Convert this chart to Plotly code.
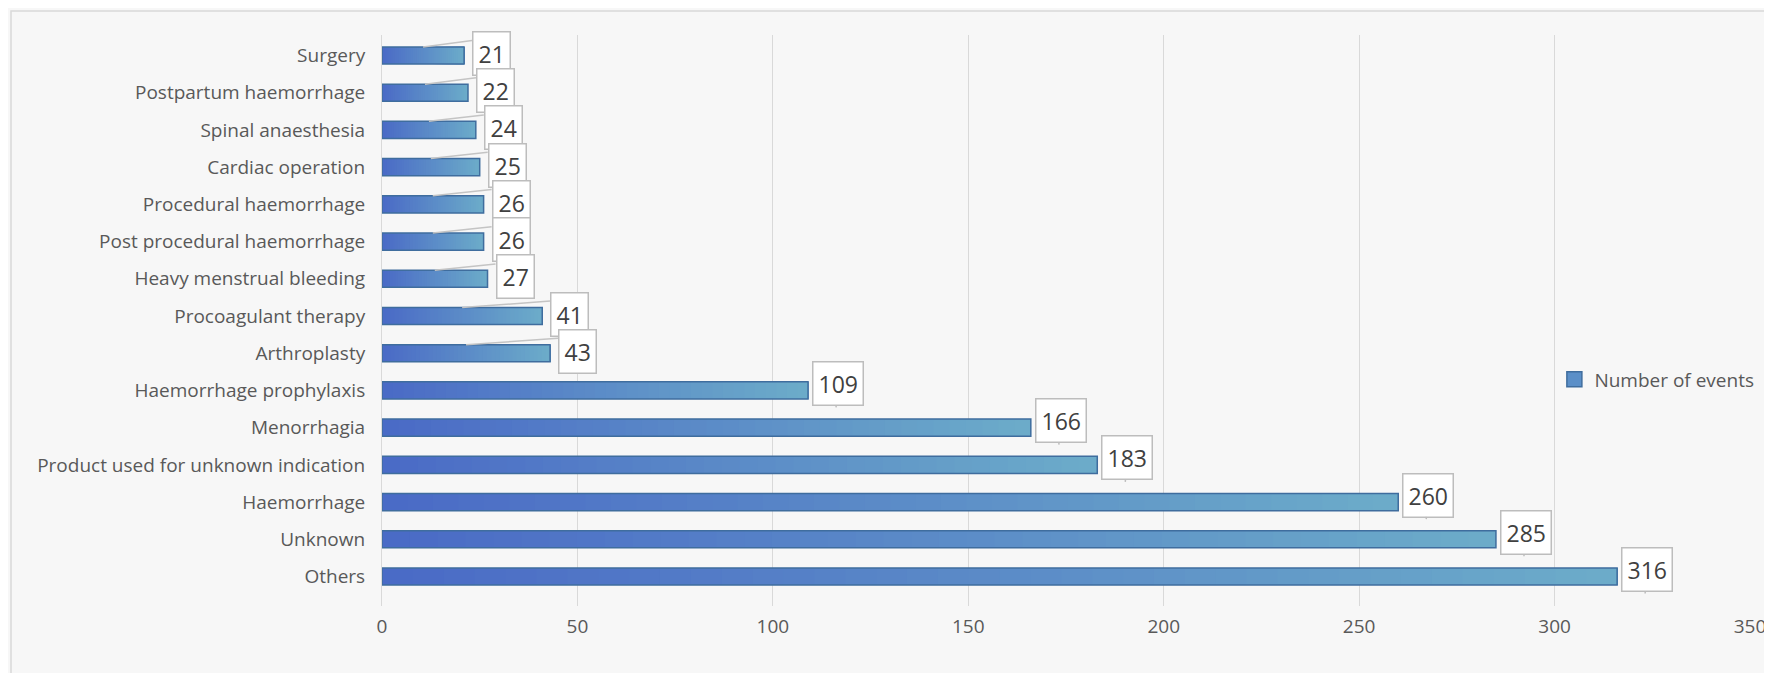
import plotly.graph_objects as go

categories = ["Surgery", "Postpartum haemorrhage", "Spinal anaesthesia", "Cardiac operation",
              "Procedural haemorrhage", "Post procedural haemorrhage", "Heavy menstrual bleeding",
              "Procoagulant therapy", "Arthroplasty", "Haemorrhage prophylaxis", "Menorrhagia",
              "Product used for unknown indication", "Haemorrhage", "Unknown", "Others"]
values = [21, 22, 24, 25, 26, 26, 27, 41, 43, 109, 166, 183, 260, 285, 316]
x_ticks = [0, 50, 100, 150, 200, 250, 300, 350]
series_name = "Number of events"

W, H = 1772, 673
ML, MR, MT, MB = 374, 30, 27, 75
PLOT_W = W - ML - MR
PLOT_H = H - MT - MB
XMAX = 350
PPU = PLOT_W / XMAX
BAR_W = 0.46

c_left = (74, 106, 198)
c_right = (108, 172, 201)
N = 40


def lerp(a, b, t):
    return "rgb(%d,%d,%d)" % tuple(round(a[k] + (b[k] - a[k]) * t) for k in range(3))


fig = go.Figure()
for i in range(N):
    fig.add_trace(go.Bar(
        y=categories, x=[v * (1 - i / N) for v in values], base=[i * v / N for v in values],
        orientation="h", width=BAR_W,
        marker=dict(color=lerp(c_left, c_right, (i + 0.5) / N), line=dict(width=0)),
        showlegend=False, hoverinfo="skip"))
fig.add_trace(go.Bar(
    y=categories, x=values, orientation="h", width=BAR_W,
    marker=dict(color="rgba(0,0,0,0)", line=dict(color="#3f6d9e", width=1.5)),
    showlegend=False, name=series_name))
fig.add_trace(go.Scatter(
    y=[None], x=[None], mode="markers", name=series_name,
    marker=dict(symbol="square", size=15, color="#5b8fc8", line=dict(color="#3f6d9e", width=1.5))))

annotations = []
shapes = []
for idx, (cat, v) in enumerate(zip(categories, values)):
    common = dict(text=str(v), font=dict(size=23, color="#404040", family="Open Sans"),
                  bgcolor="white", bordercolor="#bdbdbd", borderwidth=1.5, borderpad=5,
                  xref="x", yref="y")
    if v < 100:
        annotations.append(dict(common, x=v, y=cat, xshift=8, yshift=2,
                                xanchor="left", yanchor="middle", showarrow=False))
        shapes.append(dict(type="line", xref="x", yref="y", layer="above",
                           x0=v / 2, y0=idx - BAR_W / 2, x1=v + 8 / PPU, y1=idx - 0.4,
                           line=dict(color="#c4c4c4", width=1.5)))
    else:
        annotations.append(dict(common, x=v, y=cat, xshift=28, yshift=-17,
                                ax=2, ay=-24, showarrow=True, arrowhead=0,
                                arrowwidth=1.5, arrowcolor="#bdbdbd"))

shapes.append(dict(type="rect", xref="paper", yref="paper",
                   x0=-(ML - 3) / PLOT_W, x1=1 + (MR - 3) / PLOT_W,
                   y0=-(MB - 4) / PLOT_H, y1=1 + (MT - 3) / PLOT_H,
                   line=dict(color="#d9d9d9", width=1.5), fillcolor="rgba(0,0,0,0)", layer="below"))

fig.update_layout(
    width=W, height=H, barmode="overlay",
    margin=dict(l=ML, r=MR, t=MT, b=MB),
    paper_bgcolor="#f7f7f7", plot_bgcolor="#f7f7f7",
    font=dict(family="Open Sans", size=19, color="#595959"),
    xaxis=dict(range=[0, XMAX], tickvals=x_ticks, showgrid=True, gridcolor="#d9d9d9", gridwidth=1,
               zeroline=False, showline=False, ticks="", tickfont=dict(size=19, color="#595959"),
               ticklabelstandoff=7, fixedrange=True),
    yaxis=dict(autorange="reversed", showgrid=False, showline=True, linecolor="#d9d9d9", linewidth=1,
               ticks="", ticklabelstandoff=12, tickfont=dict(size=19, color="#595959")),
    legend=dict(x=0.857, y=0.397, xanchor="left", yanchor="middle", bgcolor="rgba(0,0,0,0)",
                font=dict(size=19, color="#595959"), itemwidth=30),
    annotations=annotations,
    shapes=shapes,
)

fig.write_html("out.html")
